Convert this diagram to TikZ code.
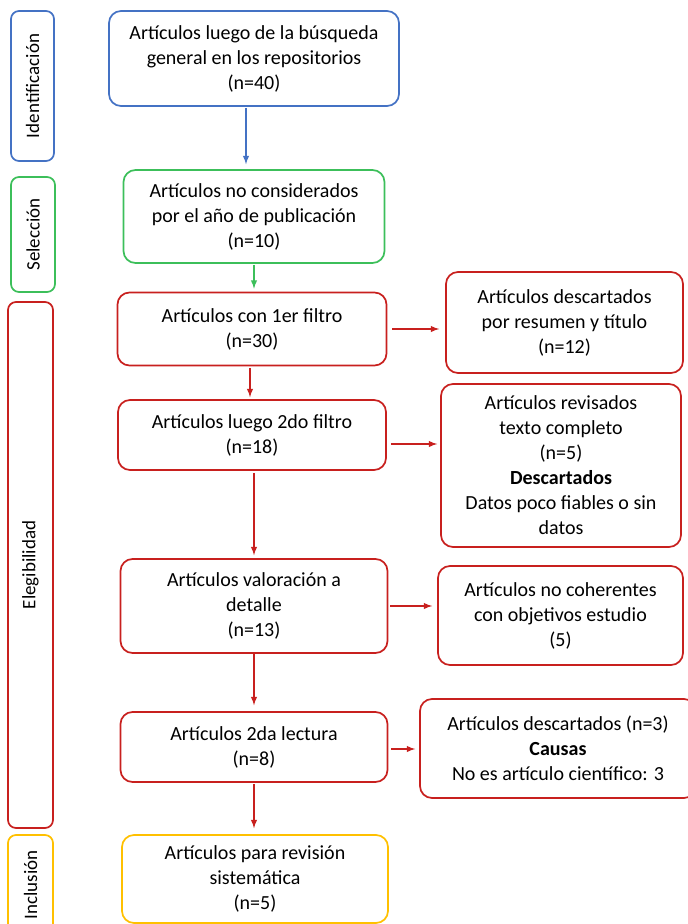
\documentclass[tikz,border=0pt]{standalone}
\usepackage{fontspec}
\setmainfont{Carlito}
\usetikzlibrary{positioning,arrows}
\definecolor{azul}{HTML}{4472C4}
\definecolor{verde}{HTML}{3CBF5A}
\definecolor{rojo}{HTML}{C8201E}
\definecolor{amarillo}{HTML}{FFC000}

\begin{document}
\begin{tikzpicture}[x=1pt,y=-1pt,>=latex,
    box/.style={draw,rounded corners=12pt,line width=1.7pt,align=center,inner sep=0pt,
                text=black,font=\fontsize{20}{25}\selectfont},
    side/.style={draw,rounded corners=8pt,line width=1.7pt,rotate=90,inner sep=0pt,
                 text=black,font=\fontsize{19}{22}\selectfont},
    flecha/.style={->,line width=1.8pt}]

        \useasboundingbox (0,0) rectangle (688,924);

        % fases
        \node[side,draw=azul,minimum width=150pt,minimum height=43pt] (ident) at (32.5,86) {Identificación};
        \node[side,draw=verde,minimum width=115pt,minimum height=44pt] (selec) at (33,234.5) {Selección};
        \node[side,draw=rojo,minimum width=526pt,minimum height=45pt] (eleg) at (30.5,565) {Elegibilidad};
        \node[side,draw=amarillo,minimum width=100pt,minimum height=45pt] (incl) at (30.5,885) {Inclusión};

        % columna principal
        \node[box,draw=azul,minimum width=290pt,minimum height=95pt] (b1) at (254,58.5)
            {Artículos luego de la búsqueda\\general en los repositorios\\(n=40)};
        \node[box,draw=verde,minimum width=261pt,minimum height=93pt] (b2) at (254,216.5)
            {Artículos no considerados\\por el año de publicación\\(n=10)};
        \node[box,draw=rojo,minimum width=269pt,minimum height=73pt] (b3) at (252,329)
            {Artículos con 1er filtro\\(n=30)};
        \node[box,draw=rojo,minimum width=268pt,minimum height=70pt] (b4) at (252,435)
            {Artículos luego 2do filtro\\(n=18)};
        \node[box,draw=rojo,minimum width=267pt,minimum height=94pt] (b5) at (254,606)
            {Artículos valoración a\\detalle\\(n=13)};
        \node[box,draw=rojo,minimum width=267pt,minimum height=70pt] (b6) at (254,747)
            {Artículos 2da lectura\\(n=8)};
        \node[box,draw=amarillo,minimum width=266pt,minimum height=88pt] (b7) at (255,879)
            {Artículos para revisión\\sistemática\\(n=5)};

        % descartes
        \node[box,draw=rojo,minimum width=237pt,minimum height=101pt] (r1) at (564.5,322.5)
            {Artículos descartados\\por resumen y título\\(n=12)};
        \node[box,draw=rojo,minimum width=240pt,minimum height=163pt] (r2) at (561,465.5)
            {Artículos revisados\\texto completo\\(n=5)\\\textbf{Descartados}\\Datos poco fiables o sin\\datos};
        \node[box,draw=rojo,minimum width=245pt,minimum height=99pt] (r3) at (560.5,615.5)
            {Artículos no coherentes\\con objetivos estudio\\(5)};
        \node[box,draw=rojo,minimum width=276pt,minimum height=99pt] (r4) at (558,748.5)
            {Artículos descartados (n=3)\\\textbf{Causas}\\No es artículo científico: 3};

        % flechas
        \draw[flecha,azul,shorten <=1pt,shorten >=5pt] ([xshift=-8pt]b1.south) -- ([xshift=-8pt]b1.south |- b2.north);
        \draw[flecha,verde,shorten <=1pt,shorten >=3pt] (b2.south) -- (b2.south |- b3.north);
        \draw[flecha,rojo,shorten <=2pt,shorten >=2pt] ([xshift=-2pt]b3.south) -- ([xshift=-2pt]b3.south |- b4.north);
        \draw[flecha,rojo,shorten <=2pt,shorten >=3pt] ([xshift=2pt]b4.south) -- ([xshift=2pt]b4.south |- b5.north);
        \draw[flecha,rojo,shorten >=6pt] (b5.south) -- (b5.south |- b6.north);
        \draw[flecha,rojo,shorten <=1pt,shorten >=6pt] (b6.south) -- (b6.south |- b7.north);
        \draw[flecha,rojo,shorten <=5pt,shorten >=6pt] (b3.east) -- (b3.east -| r1.west);
        \draw[flecha,rojo,shorten <=4pt,shorten >=3pt] ([yshift=-9pt]b4.east) -- ([yshift=-9pt]b4.east -| r2.west);
        \draw[flecha,rojo,shorten <=2pt,shorten >=5pt] (b5.east) -- (b5.east -| r3.west);
        \draw[flecha,rojo,shorten <=3pt,shorten >=4pt] ([yshift=-2pt]b6.east) -- ([yshift=-2pt]b6.east -| r4.west);
\end{tikzpicture}
\end{document}
